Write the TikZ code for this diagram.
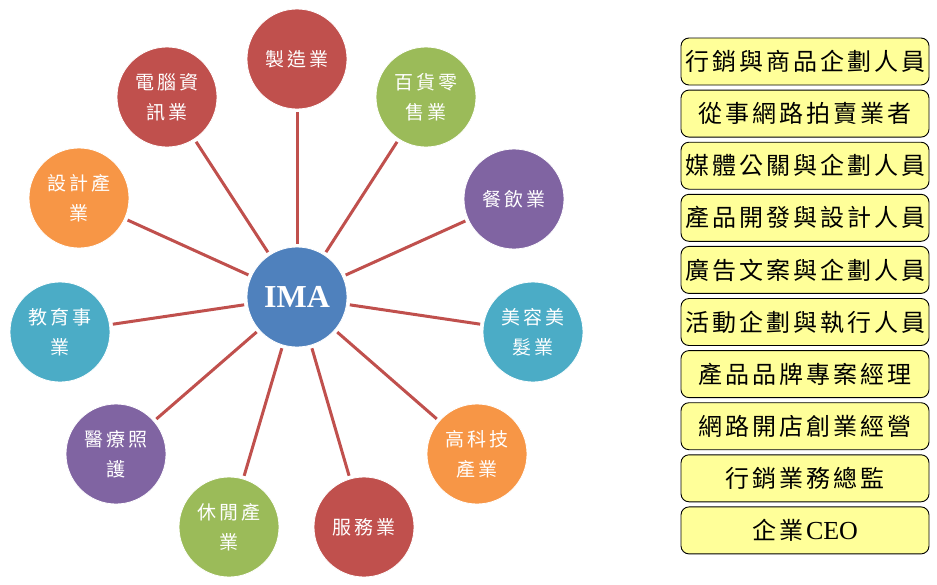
\documentclass[tikz,border=0pt]{standalone}
\usepackage{fontspec}
\setmainfont{Liberation Serif}
\newfontfamily\cjk{Noto Sans CJK TC}
\definecolor{cred}{HTML}{C0504D}
\definecolor{cgreen}{HTML}{9BBB59}
\definecolor{cpurple}{HTML}{8064A2}
\definecolor{cteal}{HTML}{4BACC6}
\definecolor{corange}{HTML}{F79646}
\definecolor{cblue}{HTML}{4F81BD}
\definecolor{cyellow}{HTML}{FFFF99}
\newlength\lsamt
\makeatletter
\def\lsp#1{\lsp@a#1\@nil}
\def\lsp@a#1#2\@nil{#1\ifx\relax#2\relax\else\hspace{\lsamt}\lsp@a#2\@nil\fi}
\makeatother
\begin{document}
\begin{tikzpicture}[x=1pt,y=-1pt,
  ind/.style={circle,minimum size=100pt,inner sep=0pt,draw=white,line width=0.8pt,
    text=white,align=center,font=\cjk\fontsize{19}{30}\selectfont\setlength\lsamt{3pt}},
  spoke/.style={draw=cred,line width=3pt,shorten <=3pt,shorten >=3pt},
  jobbox/.style={rectangle,rounded corners=8pt,draw=black,line width=0.9pt,fill=cyellow,
    minimum width=248pt,minimum height=47pt,inner sep=0pt,
    font=\cjk\fontsize{24}{28}\selectfont\setlength\lsamt{3pt}}
]
\useasboundingbox (0,0) rectangle (937,584);
\node[circle,minimum size=100pt,inner sep=0pt,fill=cblue,draw=white,line width=0.8pt,
  text=white,font=\fontsize{32}{36}\selectfont\bfseries] (ima) at (297,297) {IMA};

\node[ind,fill=cred]    (n1)  at (297,59)  {\lsp{製造業}};
\node[ind,fill=cgreen]  (n2)  at (426,97)  {\lsp{百貨零}\\\lsp{售業}};
\node[ind,fill=cpurple] (n3)  at (514,199) {\lsp{餐飲業}};
\node[ind,fill=cteal]   (n4)  at (533,332) {\lsp{美容美}\\\lsp{髮業}};
\node[ind,fill=corange] (n5)  at (477,454) {\lsp{高科技}\\\lsp{產業}};
\node[ind,fill=cred]    (n6)  at (364,527) {\lsp{服務業}};
\node[ind,fill=cgreen]  (n7)  at (229,527) {\lsp{休閒產}\\\lsp{業}};
\node[ind,fill=cpurple] (n8)  at (116,454) {\lsp{醫療照}\\\lsp{護}};
\node[ind,fill=cteal]   (n9)  at (60,332)  {\lsp{教育事}\\\lsp{業}};
\node[ind,fill=corange] (n10) at (79,198)  {\lsp{設計產}\\\lsp{業}};
\node[ind,fill=cred]    (n11) at (167,97)  {\lsp{電腦資}\\\lsp{訊業}};

\foreach \n in {n1,n2,n3,n4,n5,n6,n7,n8,n9,n10,n11}
  \draw[spoke] (ima) -- (\n);

\node[jobbox] (b1)  at (805,61.5)  {\lsp{行銷與商品企劃人員}};
\node[jobbox] (b2)  at (805,113.6) {\lsp{從事網路拍賣業者}};
\node[jobbox] (b3)  at (805,165.7) {\lsp{媒體公關與企劃人員}};
\node[jobbox] (b4)  at (805,217.8) {\lsp{產品開發與設計人員}};
\node[jobbox] (b5)  at (805,269.9) {\lsp{廣告文案與企劃人員}};
\node[jobbox] (b6)  at (805,322.0) {\lsp{活動企劃與執行人員}};
\node[jobbox] (b7)  at (805,374.1) {\lsp{產品品牌專案經理}};
\node[jobbox] (b8)  at (805,426.2) {\lsp{網路開店創業經營}};
\node[jobbox] (b9)  at (805,478.3) {\lsp{行銷業務總監}};
\node[jobbox] (b10) at (805,530.4) {\lsp{企業}\hspace{3pt}{\rmfamily\fontsize{26}{28}\selectfont CEO}};
\end{tikzpicture}
\end{document}
